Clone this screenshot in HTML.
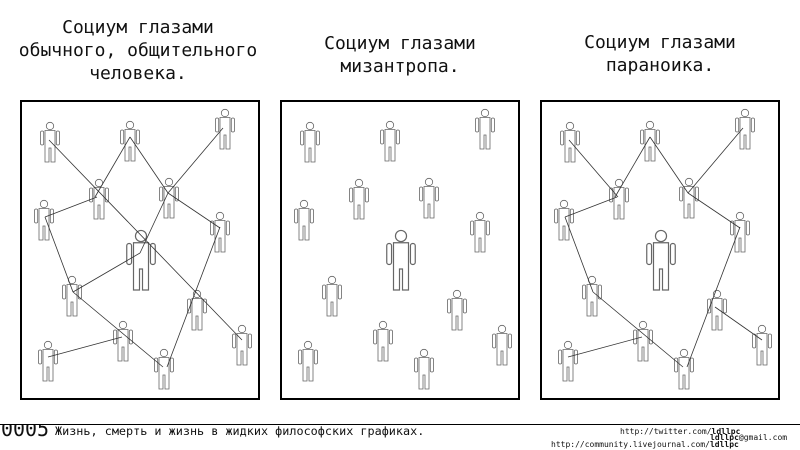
<!DOCTYPE html>
<html><head><meta charset="utf-8"><style>
html,body{margin:0;padding:0;background:#fff;width:800px;height:450px;overflow:hidden}
svg{display:block}
.t{font-family:"DejaVu Sans Mono","Liberation Mono",monospace;font-size:18px;fill:#111}
.f{font-family:"DejaVu Sans Mono","Liberation Mono",monospace;fill:#111}
</style></head><body>
<svg width="800" height="450" viewBox="0 0 800 450" xmlns="http://www.w3.org/2000/svg">
<defs>
<clipPath id="cl"><rect x="0" y="425" width="60" height="25"/></clipPath>
<g id="p" fill="none" stroke="#666" stroke-width="0.8">
<circle cx="0" cy="0" r="3.7"/>
<rect x="-9.5" y="5" width="3.2" height="14" rx="1.5"/>
<rect x="6.3" y="5" width="3.2" height="14" rx="1.5"/>
<path d="M-5,4.5 H5 V36 H1 V22 H-1 V36 H-5 Z"/>
</g>
<g id="figs">
<use href="#p" x="30" y="26"/><use href="#p" x="110" y="25"/><use href="#p" x="205" y="13"/>
<use href="#p" x="79" y="83"/><use href="#p" x="149" y="82"/><use href="#p" x="24" y="104"/>
<use href="#p" x="200" y="116"/><use href="#p" x="52" y="180"/><use href="#p" x="177" y="194"/>
<use href="#p" x="103" y="225"/><use href="#p" x="222" y="229"/><use href="#p" x="28" y="245"/>
<use href="#p" x="144" y="253"/>
<use href="#p" transform="translate(121,136) scale(1.5)"/>
</g>
<g id="base" stroke="#333" stroke-width="0.8" fill="none">
<line x1="110" y1="37" x2="75" y2="97"/><line x1="110" y1="37" x2="148" y2="93"/>
<line x1="203" y1="28" x2="148" y2="93"/><line x1="148" y1="93" x2="200" y2="128"/>
<line x1="25" y1="117" x2="77" y2="97"/><line x1="25" y1="117" x2="53" y2="192"/>
<line x1="53" y1="192" x2="143" y2="267"/><line x1="28" y1="257" x2="102" y2="237"/>
<line x1="200" y1="127" x2="147" y2="267"/>
</g>
</defs>
<text class="t" x="138" y="33" text-anchor="middle">Социум глазами</text>
<text class="t" x="138" y="56" text-anchor="middle">обычного, общительного</text>
<text class="t" x="138" y="79" text-anchor="middle">человека.</text>
<text class="t" x="400" y="49" text-anchor="middle">Социум глазами</text>
<text class="t" x="400" y="72" text-anchor="middle">мизантропа.</text>
<text class="t" x="660" y="48" text-anchor="middle">Социум глазами</text>
<text class="t" x="660" y="71" text-anchor="middle">параноика.</text>

<g transform="translate(20,100)">
<rect x="1" y="1" width="238" height="298" fill="#fff" stroke="#000" stroke-width="2"/>
<use href="#figs"/>
<use href="#base"/>
<g stroke="#333" stroke-width="0.8"><line x1="29" y1="40" x2="222" y2="240"/><line x1="148" y1="93" x2="120" y2="153"/><line x1="120" y1="153" x2="53" y2="192"/></g>
</g>
<g transform="translate(280,100)">
<rect x="1" y="1" width="238" height="298" fill="#fff" stroke="#000" stroke-width="2"/>
<use href="#figs"/>
</g>
<g transform="translate(540,100)">
<rect x="1" y="1" width="238" height="298" fill="#fff" stroke="#000" stroke-width="2"/>
<use href="#figs"/>
<use href="#base"/>
<g stroke="#333" stroke-width="0.8"><line x1="29" y1="40" x2="78" y2="97"/><line x1="175" y1="207" x2="222" y2="240"/></g>
</g>

<line x1="0" y1="424.5" x2="800" y2="424.5" stroke="#000" stroke-width="1"/>
<text class="f" x="1" y="436" font-size="21" clip-path="url(#cl)" textLength="48" lengthAdjust="spacingAndGlyphs">0005</text>
<text class="f" x="55" y="435" font-size="11.8">Жизнь, смерть и жизнь в жидких философских графиках.</text>
<text class="f" x="620" y="434" font-size="8">http://twitter.com/<tspan font-weight="bold">ldllpc</tspan></text>
<text class="f" x="710" y="440" font-size="8"><tspan font-weight="bold">ldllpc</tspan>@gmail.com</text>
<text class="f" x="551" y="447" font-size="8">http://community.livejournal.com/<tspan font-weight="bold">ldllpc</tspan></text>
</svg>
</body></html>
